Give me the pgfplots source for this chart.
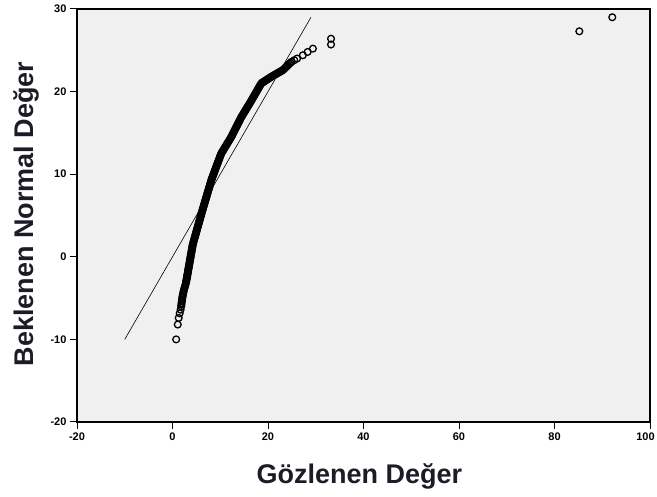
\documentclass[border=0pt]{standalone}
\usepackage{fontspec}
\setmainfont{Liberation Sans}
\usepackage{pgfplots}
\usepackage{pgfplotstable}
\pgfplotsset{compat=1.18}
\definecolor{bg}{HTML}{F0F0F0}
\definecolor{lab}{RGB}{28,28,40}
\pgfplotstableread{
x y
0.77 -10
1.1 -8.2
1.3 -7.4
1.5 -6.85
1.7 -6.4
1.82 -6.0
1.86 -5.8
1.9 -5.6
1.95 -5.4
2.0 -5.2
2.05 -5.0
2.1 -4.8
2.17 -4.6
2.25 -4.4
2.32 -4.2
2.4 -4.0
2.5 -3.8
2.6 -3.6
2.7 -3.4
2.8 -3.2
2.85 -3.05
2.9 -2.9
2.95 -2.75
2.99 -2.6
3.04 -2.45
3.08 -2.3
3.13 -2.15
3.18 -2.0
3.22 -1.85
3.27 -1.7
3.31 -1.55
3.36 -1.4
3.41 -1.25
3.45 -1.1
3.50 -0.95
3.54 -0.8
3.59 -0.65
3.64 -0.5
3.68 -0.35
3.73 -0.2
3.77 -0.05
3.82 0.1
3.87 0.25
3.91 0.4
3.96 0.55
4.0 0.7
4.05 0.85
4.10 1.0
4.14 1.15
4.19 1.3
4.23 1.45
4.30 1.6
4.37 1.75
4.44 1.9
4.52 2.05
4.59 2.2
4.66 2.35
4.74 2.5
4.81 2.65
4.88 2.8
4.96 2.95
5.03 3.1
5.10 3.25
5.17 3.4
5.25 3.55
5.32 3.7
5.39 3.85
5.47 4.0
5.54 4.15
5.61 4.3
5.69 4.45
5.76 4.6
5.83 4.75
5.91 4.9
5.98 5.05
6.05 5.2
6.13 5.35
6.20 5.5
6.28 5.65
6.36 5.8
6.43 5.95
6.51 6.1
6.59 6.25
6.66 6.4
6.74 6.55
6.82 6.7
6.89 6.85
6.97 7.0
7.05 7.15
7.12 7.3
7.20 7.45
7.28 7.6
7.35 7.75
7.43 7.9
7.51 8.05
7.59 8.2
7.66 8.35
7.74 8.5
7.82 8.65
7.89 8.8
7.97 8.95
8.05 9.1
8.12 9.25
8.2 9.4
8.30 9.55
8.39 9.7
8.49 9.85
8.59 10.0
8.69 10.15
8.78 10.3
8.88 10.45
8.97 10.6
9.07 10.75
9.17 10.9
9.26 11.05
9.36 11.2
9.46 11.35
9.55 11.5
9.65 11.65
9.75 11.8
9.85 11.95
9.94 12.1
10.04 12.25
10.14 12.4
10.25 12.55
10.41 12.7
10.57 12.85
10.73 13.0
10.88 13.15
11.04 13.3
11.20 13.45
11.36 13.6
11.51 13.75
11.67 13.9
11.83 14.05
11.99 14.2
12.14 14.35
12.3 14.5
12.43 14.65
12.56 14.8
12.69 14.95
12.83 15.1
12.96 15.25
13.09 15.4
13.22 15.55
13.35 15.7
13.48 15.85
13.61 16.0
13.74 16.15
13.88 16.3
14.01 16.45
14.14 16.6
14.27 16.75
14.4 16.9
14.56 17.05
14.72 17.2
14.87 17.35
15.03 17.5
15.19 17.65
15.35 17.8
15.50 17.95
15.66 18.1
15.82 18.25
15.98 18.4
16.13 18.55
16.29 18.7
16.45 18.85
16.6 19.0
16.75 19.15
16.9 19.3
17.05 19.45
17.2 19.6
17.35 19.75
17.5 19.9
17.65 20.05
17.8 20.2
17.95 20.35
18.1 20.5
18.25 20.65
18.4 20.8
18.55 20.95
18.73 21.05
18.86 21.1
19.06 21.175
19.26 21.25
19.45 21.325
19.65 21.4
19.85 21.475
20.04 21.55
20.24 21.625
20.44 21.7
20.63 21.775
20.85 21.85
21.08 21.925
21.3 22.0
21.53 22.075
21.75 22.15
21.98 22.225
22.2 22.3
22.43 22.375
22.65 22.45
22.88 22.525
23.1 22.6
23.33 22.725
23.55 22.85
23.78 22.975
24.0 23.1
24.23 23.225
24.45 23.35
24.68 23.475
24.9 23.6
25.5 23.8
26.1 24.0
27.3 24.4
28.3 24.8
29.4 25.2
33.2 25.7
33.2 26.4
85.2 27.3
92.1 29.0
}\qqdata
\begin{document}
\begin{tikzpicture}[x=1pt,y=1pt]
\useasboundingbox (0,0) rectangle (657,497);
\begin{axis}[
  at={(77pt,75pt)}, anchor=south west,
  width=573pt, height=413pt, scale only axis,
  xmin=-20, xmax=100, ymin=-20, ymax=30,
  xtick={-20,0,...,100}, ytick={-20,-10,...,30},
  xticklabels={-20,0,20,40,60,80,{\kern-9pt 100}},
  tick align=outside, xtick pos=bottom, ytick pos=left,
  major tick length=7pt,
  axis background/.style={fill=bg},
  axis line style={line width=1.2pt, black},
  tick style={line width=1pt, black},
  ticklabel style={font=\fontsize{11}{13}\selectfont\bfseries},
  /pgf/number format/assume math mode=true,
  xlabel={Gözlenen Değer}, ylabel={Beklenen Normal Değer},
  label style={font=\fontsize{27}{30}\selectfont\bfseries, text=lab},
  xlabel style={at={(axis description cs:0.493,-0.133)}, anchor=center},
  ylabel style={at={(axis description cs:-0.089,0.504)}, anchor=center},
  clip=false,
]
\addplot[black, line width=0.6pt] coordinates {(-10,-10) (29,29)};
\addplot[only marks, mark=o, mark size=3.4pt, mark options={line width=1.3pt, black}] table[x=x,y=y] {\qqdata};
\end{axis}
\end{tikzpicture}
\end{document}
